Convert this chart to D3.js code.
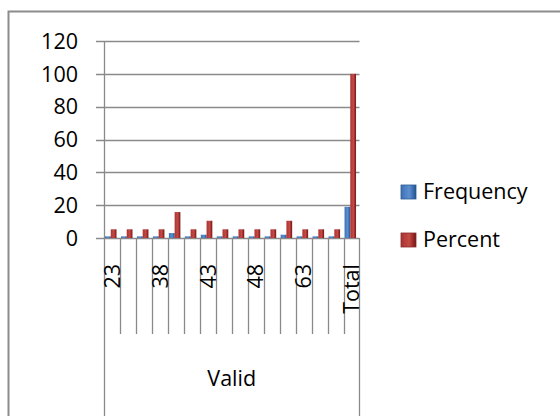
<!DOCTYPE html>
<html><head><meta charset="utf-8">
<script src="https://cdn.jsdelivr.net/npm/d3@7/dist/d3.min.js"></script>
<style>body{margin:0;background:#fff}svg{display:block}</style>
</head><body><svg id="c" width="560" height="416"></svg>
<script>
const categories = ["23","27","35","38","40","42","43","45","46","48","52","58","63","65","68","Total"];
const frequency = [1,1,1,1,3,1,2,1,1,1,1,2,1,1,1,19];
const percent = [5.3,5.3,5.3,5.3,15.8,5.3,10.5,5.3,5.3,5.3,5.3,10.5,5.3,5.3,5.3,100];
const seriesNames = ["Frequency","Percent"];
const yTicks = [0,20,40,60,80,100,120];
const groupLabel = "Valid";

const svg = d3.select("#c");
const font = "'Open Sans', sans-serif";
const fs = 21.5;
const grid = "#8a8a8a";

const defs = svg.append("defs");
function grad(id, stops){
  const g = defs.append("linearGradient").attr("id", id).attr("x1","0").attr("x2","1").attr("y1","0").attr("y2","0");
  stops.forEach(s => g.append("stop").attr("offset", s[0]).attr("stop-color", s[1]));
}
grad("gb", [[0,"#3f72b3"],[0.55,"#5b8fd2"],[0.8,"#3d6fae"],[1,"#264f86"]]);
grad("gr", [[0,"#a93331"],[0.55,"#c54a47"],[0.8,"#9a2a28"],[1,"#6a1a18"]]);
const fills = ["url(#gb)","url(#gr)"];

svg.append("rect").attr("x",8.5).attr("y",11.5).attr("width",620).attr("height",500)
  .attr("fill","none").attr("stroke","#8c8c8c").attr("stroke-width",2);

const x0 = d3.scaleBand().domain(categories).range([104, 359.5]).padding(0);
const x1 = d3.scaleBand().domain(seriesNames).range([1, 12.5]).padding(0);
const y = d3.scaleLinear().domain([0,120]).range([238, 41]);

svg.append("g").selectAll("line").data(yTicks).join("line")
  .attr("x1",96).attr("x2",359.5).attr("y1",d=>Math.round(y(d))+0.5).attr("y2",d=>Math.round(y(d))+0.5)
  .attr("stroke",grid).attr("stroke-width",1.3);

svg.append("g").selectAll("text").data(yTicks).join("text")
  .attr("x",78).attr("y",d=>y(d)).attr("dy","0.36em").attr("text-anchor","end")
  .attr("font-family",font).attr("font-size",fs).attr("fill","#000").text(d=>d);

const bounds = categories.map(c=>x0(c)).concat([x0.range()[1]]);
svg.append("g").selectAll("line").data(bounds.slice(1,-1)).join("line")
  .attr("x1",d=>Math.round(d)+0.5).attr("x2",d=>Math.round(d)+0.5).attr("y1",238).attr("y2",334)
  .attr("stroke",grid).attr("stroke-width",1.3);
svg.append("line").attr("x1",104.5).attr("x2",104.5).attr("y1",41).attr("y2",416).attr("stroke",grid).attr("stroke-width",1.3);
svg.append("line").attr("x1",359.5).attr("x2",359.5).attr("y1",238).attr("y2",416).attr("stroke",grid).attr("stroke-width",1.3);

const data = categories.map((c,i)=>({c, vals:[frequency[i], percent[i]]}));
const g = svg.append("g").selectAll("g").data(data).join("g").attr("transform",d=>`translate(${x0(d.c)},0)`);
g.selectAll("rect").data(d=>d.vals.map((v,j)=>({v,j}))).join("rect")
  .attr("x",d=>x1(seriesNames[d.j])).attr("width",x1.bandwidth())
  .attr("y",d=>y(d.v)).attr("height",d=>y(0)-y(d.v))
  .attr("fill",d=>fills[d.j]);

svg.append("g").selectAll("text").data(categories.filter((c,i)=>i%3===0)).join("text")
  .attr("transform",d=>`translate(${x0(d)+x0.bandwidth()/2},264) rotate(-90)`)
  .attr("text-anchor","end").attr("dy","0.36em")
  .attr("font-family",font).attr("font-size",fs).attr("fill","#000").text(d=>d);

svg.append("text").attr("x",(104+359.5)/2).attr("y",386).attr("text-anchor","middle")
  .attr("font-family",font).attr("font-size",fs).attr("fill","#000").text(groupLabel);

const leg = svg.append("g").selectAll("g").data(seriesNames).join("g")
  .attr("transform",(d,i)=>`translate(401,${185+i*48})`);
leg.append("rect").attr("width",15).attr("height",14).attr("fill",(d,i)=>fills[i])
  .attr("stroke",(d,i)=>i?"#8a2a28":"#2a5a94").attr("stroke-width",0.8);
leg.append("text").attr("x",22).attr("y",14).attr("font-family",font).attr("font-size",fs)
  .attr("fill","#000").text(d=>d);
</script></body></html>
